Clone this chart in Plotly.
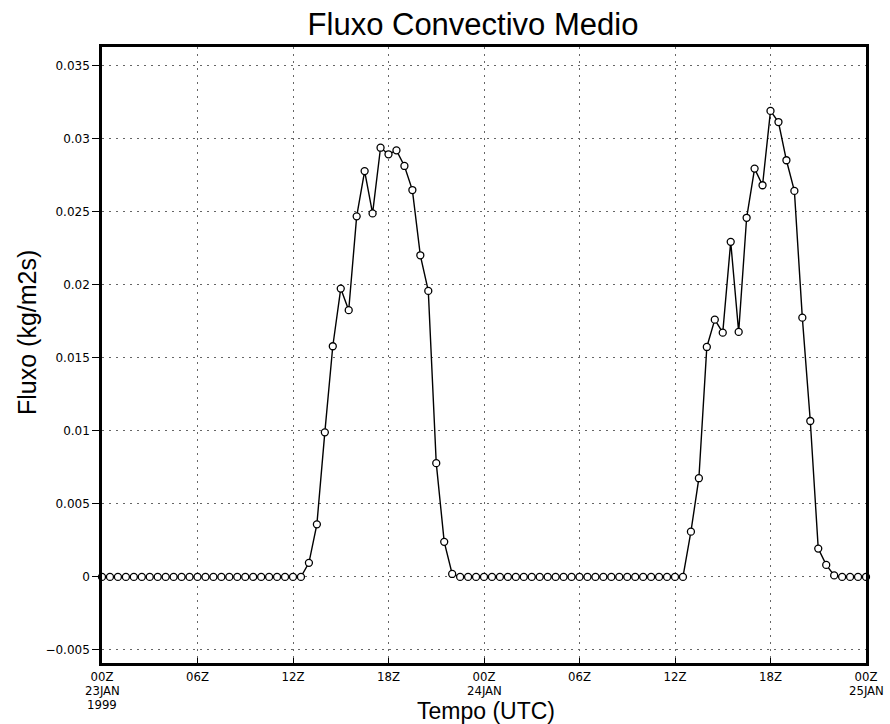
import plotly.graph_objects as go

# Time axis: hours since 00Z 23JAN1999, half-hourly samples
hours = [i * 0.5 for i in range(97)]

# Mean convective flux (kg/m2s), half-hourly
flux = (
    [0.0] * 26 +                                   # 00:00 .. 12:30 (23JAN)
    [0.00096, 0.0036, 0.0099, 0.0158, 0.01975, 0.01827, 0.0247, 0.0278,
     0.0249, 0.0294, 0.02895, 0.02922, 0.02815, 0.0265, 0.02203, 0.01959,
     0.00779, 0.0024, 0.0002] +                    # 13:00 .. 22:00
    [0.0] * 29 +                                   # 22:30 .. 12:30 (24JAN)
    [0.0031, 0.00676, 0.01575, 0.01762, 0.01673, 0.02295, 0.01678, 0.0246,
     0.02797, 0.02683, 0.03192, 0.03116, 0.02854, 0.02644, 0.01776, 0.01068,
     0.00194, 0.00082, 0.0001] +                   # 37:00 .. 46:00
    [0.0] * 4                                      # 46:30 .. 48:00
)

x_tick_vals = [0, 6, 12, 18, 24, 30, 36, 42, 48]
x_tick_text = ["00Z", "06Z", "12Z", "18Z", "00Z", "06Z", "12Z", "18Z", "00Z"]
# extra date lines written under selected hour labels
date_pos = [0, 0, 24, 48]
date_text = ["23JAN", "1999", "24JAN", "25JAN"]
date_line = [1, 2, 1, 1]
y_tick_vals = [-0.005, 0, 0.005, 0.01, 0.015, 0.02, 0.025, 0.03, 0.035]
y_tick_text = ["\u22120.005", "0", "0.005", "0.01", "0.015", "0.02", "0.025", "0.03", "0.035"]

SANS = "Liberation Sans, Arial, sans-serif"
COND = "DejaVu Sans Condensed, Liberation Sans, sans-serif"
H = 724
PLOT_TOP, PLOT_BOTTOM = 47, 663

fig = go.Figure()
fig.add_trace(go.Scatter(
    x=hours, y=flux, mode="lines+markers",
    line=dict(color="black", width=1.4),
    marker=dict(symbol="circle", size=7, color="white",
                line=dict(color="black", width=1.3)),
    showlegend=False, cliponaxis=False,
))

axis_common = dict(
    showline=True, linecolor="black", linewidth=2.5, mirror=True,
    tickwidth=1, tickcolor="black", automargin=False,
    showgrid=True, gridcolor="#666666", gridwidth=1, griddash="2px,5px",
    zeroline=False,
)

fig.update_xaxes(range=[0, 48], tickmode="array", tickvals=x_tick_vals,
                 ticktext=x_tick_text, ticks="inside", ticklen=5,
                 tickfont=dict(family=COND, size=13, color="black"),
                 **axis_common)
fig.update_yaxes(range=[-0.0059, 0.0363], tickmode="array", tickvals=y_tick_vals,
                 ticktext=y_tick_text, ticks="outside", ticklen=7,
                 tickfont=dict(family="DejaVu Sans", size=12, color="black"),
                 **axis_common)

fig.update_layout(
    width=890, height=H,
    margin=dict(l=102, r=24, t=PLOT_TOP, b=H - PLOT_BOTTOM),
    paper_bgcolor="white", plot_bgcolor="white",
    font=dict(family=SANS, color="black"),
    title=dict(text="Fluxo Convectivo Medio", x=473 / 890, xref="container",
               xanchor="center", y=1 - 24 / H, yref="container", yanchor="middle",
               font=dict(family=SANS, size=31, color="black")),
)

for pos, txt, line in zip(date_pos, date_text, date_line):
    fig.add_annotation(text=txt, x=pos, xref="x", y=0, yref="paper",
                       yshift=-(13 + 14 * line), showarrow=False, borderpad=0,
                       xanchor="center", yanchor="middle",
                       font=dict(family=COND, size=13, color="black"))

fig.add_annotation(text="Fluxo (kg/m2s)", xref="paper", yref="paper",
                   x=-(102 - 27) / 764, y=(PLOT_BOTTOM - 333) / (PLOT_BOTTOM - PLOT_TOP),
                   textangle=-90, showarrow=False,
                   xanchor="center", yanchor="middle",
                   font=dict(family=SANS, size=25, color="black"))
fig.add_annotation(text="Tempo (UTC)", xref="paper", yref="paper",
                   x=(486 - 102) / 764, y=-(711 - PLOT_BOTTOM) / (PLOT_BOTTOM - PLOT_TOP),
                   showarrow=False, xanchor="center", yanchor="middle",
                   font=dict(family=SANS, size=23, color="black"))

fig.write_html("out.html")
